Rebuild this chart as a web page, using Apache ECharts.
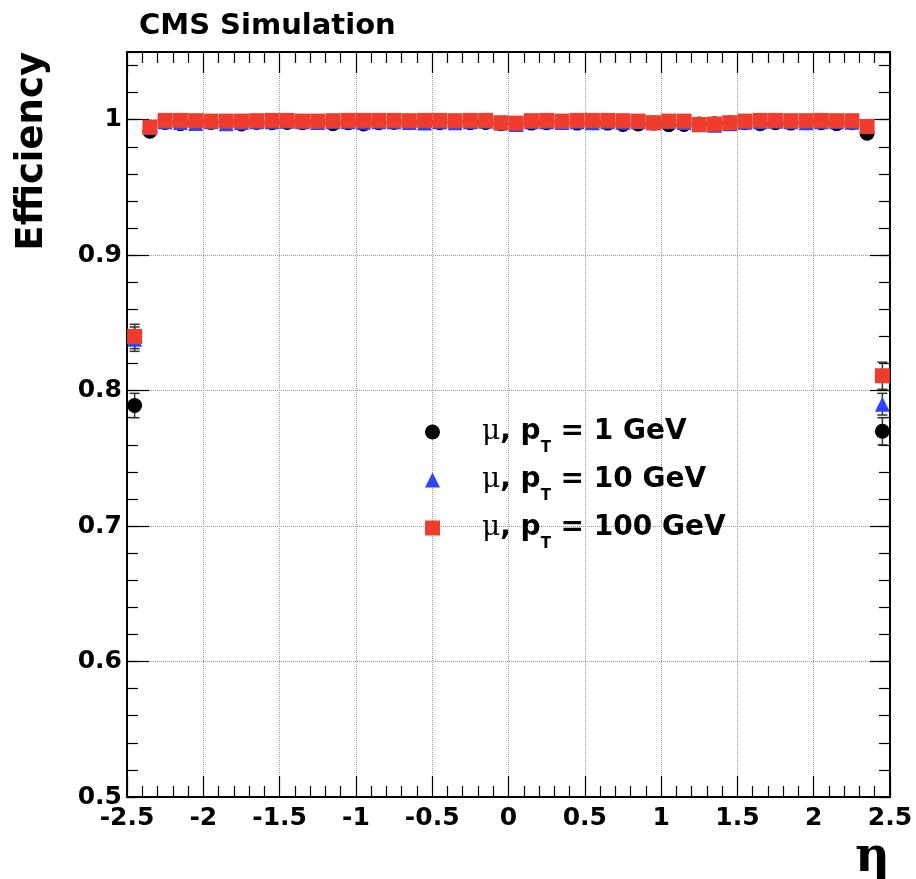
<!DOCTYPE html>
<html>
<head>
<meta charset="utf-8">
<script src="https://cdn.jsdelivr.net/npm/echarts@6/dist/echarts.min.js"></script>
<style>
html, body { margin: 0; padding: 0; background: #fff; }
#eff { width: 916px; height: 879px; }
</style>
</head>
<body>
<div id="eff"></div>
<script>
// eta bin centres (bin width 0.1)
var etaBins = [
    -2.45, -2.35, -2.25, -2.15, -2.05, -1.95, -1.85, -1.75, -1.65, -1.55,
    -1.45, -1.35, -1.25, -1.15, -1.05, -0.95, -0.85, -0.75, -0.65, -0.55,
    -0.45, -0.35, -0.25, -0.15, -0.05, 0.05, 0.15, 0.25, 0.35, 0.45,
    0.55, 0.65, 0.75, 0.85, 0.95, 1.05, 1.15, 1.25, 1.35, 1.45,
    1.55, 1.65, 1.75, 1.85, 1.95, 2.05, 2.15, 2.25, 2.35, 2.45
];
var ptValues = ['1', '10', '100'];

var effPt1 = [
    0.789, 0.9915, 0.9980, 0.9970, 0.9978, 0.9980, 0.9978, 0.9968, 0.9980, 0.9978,
    0.9980, 0.9978, 0.9980, 0.9970, 0.9978, 0.9968, 0.9978, 0.9980, 0.9978, 0.9980,
    0.9978, 0.9980, 0.9978, 0.9980, 0.9970, 0.9972, 0.9975, 0.9978, 0.9980, 0.9975,
    0.9978, 0.9975, 0.9965, 0.9968, 0.9975, 0.9963, 0.9965, 0.9968, 0.9970, 0.9975,
    0.9978, 0.9970, 0.9978, 0.9975, 0.9978, 0.9978, 0.9970, 0.9978, 0.9900, 0.770
];
var effPt10 = [
    0.838, 0.9940, 0.9985, 0.9980, 0.9972, 0.9985, 0.9970, 0.9980, 0.9985, 0.9985,
    0.9988, 0.9985, 0.9980, 0.9985, 0.9985, 0.9982, 0.9985, 0.9985, 0.9980, 0.9975,
    0.9985, 0.9978, 0.9985, 0.9988, 0.9975, 0.9965, 0.9985, 0.9985, 0.9980, 0.9985,
    0.9978, 0.9985, 0.9982, 0.9985, 0.9978, 0.9985, 0.9980, 0.9962, 0.9960, 0.9970,
    0.9982, 0.9985, 0.9988, 0.9985, 0.9978, 0.9985, 0.9985, 0.9982, 0.9955, 0.790
];
var effPt100 = [
    0.840, 0.9945, 0.9995, 0.9995, 0.9993, 0.9990, 0.9990, 0.9990, 0.9993, 0.9995,
    0.9995, 0.9990, 0.9990, 0.9993, 0.9995, 0.9995, 0.9995, 0.9995, 0.9993, 0.9995,
    0.9995, 0.9993, 0.9995, 0.9995, 0.9978, 0.9975, 0.9993, 0.9995, 0.9990, 0.9995,
    0.9995, 0.9995, 0.9993, 0.9990, 0.9978, 0.9990, 0.9990, 0.9965, 0.9968, 0.9978,
    0.9990, 0.9995, 0.9995, 0.9993, 0.9993, 0.9995, 0.9993, 0.9993, 0.9950, 0.811
];

var errPt1 = [
    0.009, 0.002, 0.001, 0.001, 0.001, 0.001, 0.001, 0.001, 0.001, 0.001,
    0.001, 0.001, 0.001, 0.001, 0.001, 0.001, 0.001, 0.001, 0.001, 0.001,
    0.001, 0.001, 0.001, 0.001, 0.001, 0.001, 0.001, 0.001, 0.001, 0.001,
    0.001, 0.001, 0.001, 0.001, 0.001, 0.001, 0.001, 0.001, 0.001, 0.001,
    0.001, 0.001, 0.001, 0.001, 0.001, 0.001, 0.001, 0.001, 0.002, 0.010
];
var errPt10 = [
    0.009, 0.002, 0.0008, 0.0008, 0.0008, 0.0008, 0.0008, 0.0008, 0.0008, 0.0008,
    0.0008, 0.0008, 0.0008, 0.0008, 0.0008, 0.0008, 0.0008, 0.0008, 0.0008, 0.0008,
    0.0008, 0.0008, 0.0008, 0.0008, 0.0008, 0.0008, 0.0008, 0.0008, 0.0008, 0.0008,
    0.0008, 0.0008, 0.0008, 0.0008, 0.0008, 0.0008, 0.0008, 0.0008, 0.0008, 0.0008,
    0.0008, 0.0008, 0.0008, 0.0008, 0.0008, 0.0008, 0.0008, 0.0008, 0.002, 0.008
];
var errPt100 = [
    0.009, 0.002, 0.0008, 0.0008, 0.0008, 0.0008, 0.0008, 0.0008, 0.0008, 0.0008,
    0.0008, 0.0008, 0.0008, 0.0008, 0.0008, 0.0008, 0.0008, 0.0008, 0.0008, 0.0008,
    0.0008, 0.0008, 0.0008, 0.0008, 0.0008, 0.0008, 0.0008, 0.0008, 0.0008, 0.0008,
    0.0008, 0.0008, 0.0008, 0.0008, 0.0008, 0.0008, 0.0008, 0.0008, 0.0008, 0.0008,
    0.0008, 0.0008, 0.0008, 0.0008, 0.0008, 0.0008, 0.0008, 0.0008, 0.002, 0.010
];

var seriesNames = ['mu1', 'mu10', 'mu100'];
var seriesColors = ['#000000', '#2b45ff', '#f03c2d'];
var seriesSymbols = ['circle', 'triangle', 'rect'];
var allEff = [effPt1, effPt10, effPt100];
var allErr = [errPt1, errPt10, errPt100];

var SANS = 'DejaVu Sans';

function toPoints(vals, errs) {
    var out = [];
    for (var i = 0; i < etaBins.length; i++) {
        out.push([etaBins[i], vals[i], errs[i]]);
    }
    return out;
}

function errBar(params, api) {
    var x = api.value(0), y = api.value(1), e = api.value(2);
    var hi = api.coord([x, y + e]);
    var lo = api.coord([x, y - e]);
    var st = { stroke: '#333', lineWidth: 1.5 };
    return {
        type: 'group',
        children: [
            { type: 'line', shape: { x1: hi[0], y1: hi[1], x2: lo[0], y2: lo[1] }, style: st },
            { type: 'line', shape: { x1: hi[0] - 5, y1: hi[1], x2: hi[0] + 5, y2: hi[1] }, style: st },
            { type: 'line', shape: { x1: lo[0] - 5, y1: lo[1], x2: lo[0] + 5, y2: lo[1] }, style: st }
        ]
    };
}

var series = [];
for (var k = 0; k < 3; k++) {
    series.push({
        name: 'err' + k,
        type: 'custom',
        xAxisIndex: 0,
        yAxisIndex: 0,
        renderItem: errBar,
        data: toPoints(allEff[k], allErr[k]),
        silent: true,
        z: 2
    });
}
for (var j = 0; j < 3; j++) {
    series.push({
        name: seriesNames[j],
        type: 'scatter',
        xAxisIndex: 0,
        yAxisIndex: 0,
        symbol: seriesSymbols[j],
        symbolSize: 15,
        itemStyle: { color: seriesColors[j], opacity: 1 },
        data: toPoints(allEff[j], allErr[j]),
        z: 3
    });
}

var frameLine = { show: true, onZero: false, lineStyle: { color: '#000', width: 2 } };
var tickLabel = { fontFamily: SANS, fontWeight: 'bold', fontSize: 25, color: '#000' };

var chart = echarts.init(document.getElementById('eff'));
chart.setOption({
    animation: false,
    backgroundColor: '#fff',
    title: {
        text: 'CMS Simulation',
        left: 134,
        top: 7,
        textStyle: { fontFamily: SANS, fontWeight: 'bold', fontSize: 29, color: '#000' }
    },
    legend: {
        data: seriesNames,
        orient: 'vertical',
        left: 425,
        top: 408,
        padding: 0,
        itemGap: 0,
        itemWidth: 15,
        itemHeight: 15,
        selectedMode: false,
        formatter: function (name) {
            var pt = ptValues[seriesNames.indexOf(name)];
            return '{mu|\u03bc}{b|, p}{sub|T}{b| = ' + pt + ' GeV}';
        },
        textStyle: {
            color: '#000',
            rich: {
                mu: { fontFamily: 'DejaVu Serif', fontSize: 28, lineHeight: 30, color: '#000',
                      padding: [0, 0, 0, 37] },
                b: { fontFamily: SANS, fontWeight: 'bold', fontSize: 28, lineHeight: 30, color: '#000' },
                sub: { fontFamily: SANS, fontWeight: 'bold', fontSize: 15, lineHeight: 15,
                       padding: [33, 0, 0, 0], color: '#000' }
            }
        }
    },
    grid: {
        left: 127,
        right: 26,
        top: 52,
        bottom: 82,
        containLabel: false,
        outerBoundsMode: 'none'
    },
    xAxis: [
        {
            type: 'value',
            position: 'bottom',
            min: -2.5,
            max: 2.5,
            interval: 0.5,
            name: '\u03b7',
            nameLocation: 'end',
            nameGap: 0,
            nameMoveOverlap: false,
            nameTextStyle: {
                fontFamily: 'DejaVu Serif', fontWeight: 'bold', fontSize: 48, color: '#000',
                align: 'right', verticalAlign: 'top', padding: [38, 0, 0, 0]
            },
            axisLine: frameLine,
            axisTick: { show: true, inside: true, length: 21, lineStyle: { color: '#000', width: 1.2 } },
            minorTick: { show: true, splitNumber: 5, length: 11, lineStyle: { color: '#000', width: 1.2 } },
            axisLabel: Object.assign({ margin: 9 }, tickLabel),
            splitLine: { show: true, lineStyle: { color: '#999', width: 1, type: 'dotted' } }
        },
        {
            type: 'value',
            position: 'top',
            min: -2.5,
            max: 2.5,
            interval: 0.5,
            axisLine: frameLine,
            axisTick: { show: true, inside: true, length: 21, lineStyle: { color: '#000', width: 1.2 } },
            minorTick: { show: true, splitNumber: 5, length: 11, lineStyle: { color: '#000', width: 1.2 } },
            axisLabel: { show: false },
            splitLine: { show: false }
        }
    ],
    yAxis: [
        {
            type: 'value',
            position: 'left',
            min: 0.5,
            max: 1.05,
            interval: 0.1,
            name: 'Efficiency',
            nameLocation: 'end',
            nameRotate: 90,
            nameGap: 0,
            nameMoveOverlap: false,
            nameTextStyle: {
                fontFamily: SANS, fontWeight: 'bold', fontSize: 37, color: '#000',
                align: 'right', verticalAlign: 'bottom', padding: [0, 0, 76, 0]
            },
            axisLine: frameLine,
            axisTick: { show: true, inside: true, length: 22, lineStyle: { color: '#000', width: 1.2 } },
            axisLabel: Object.assign({ margin: 5, showMaxLabel: false }, tickLabel),
            splitLine: { show: true, lineStyle: { color: '#999', width: 1, type: 'dotted' } }
        },
        {
            type: 'value',
            position: 'right',
            min: 0.5,
            max: 1.05,
            interval: 0.1,
            axisLine: frameLine,
            axisTick: { show: true, inside: true, length: 20, lineStyle: { color: '#000', width: 1.2 } },
            axisLabel: { show: false },
            splitLine: { show: false }
        },
        {
            // minor ticks, left
            type: 'value',
            position: 'left',
            min: 0.5,
            max: 1.05,
            interval: 0.02,
            axisLine: { show: false, onZero: false },
            axisTick: { show: true, inside: true, length: 11, lineStyle: { color: '#000', width: 1.2 } },
            axisLabel: { show: false },
            splitLine: { show: false }
        },
        {
            // minor ticks, right
            type: 'value',
            position: 'right',
            min: 0.5,
            max: 1.05,
            interval: 0.02,
            axisLine: { show: false, onZero: false },
            axisTick: { show: true, inside: true, length: 11, lineStyle: { color: '#000', width: 1.2 } },
            axisLabel: { show: false },
            splitLine: { show: false }
        }
    ],
    series: series
});
</script>
</body>
</html>
